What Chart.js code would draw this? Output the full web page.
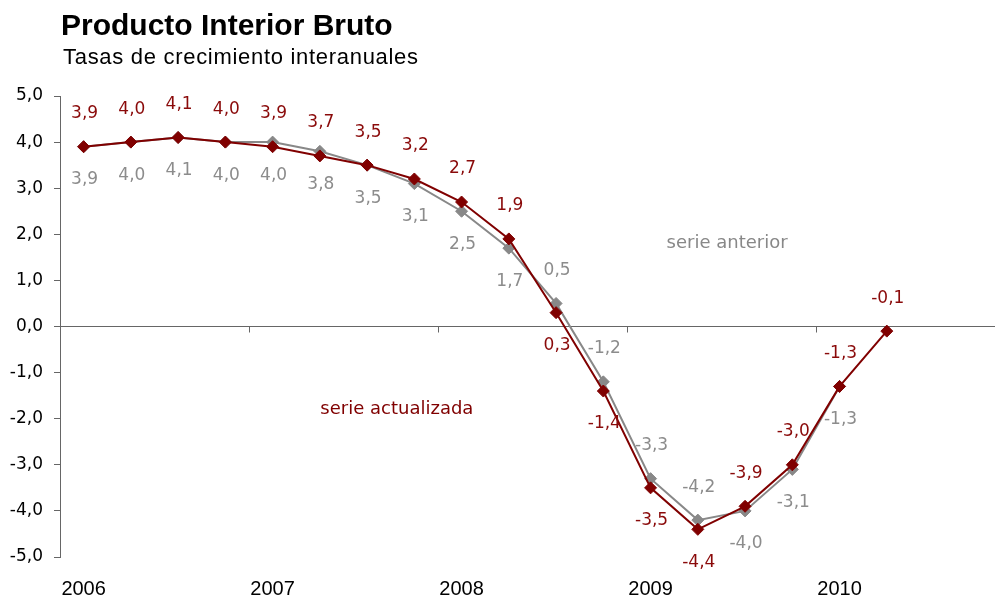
<!DOCTYPE html>
<html lang="es">
<head>
<meta charset="utf-8">
<title>Producto Interior Bruto</title>
<script src="https://cdn.jsdelivr.net/npm/chart.js@4.4.1/dist/chart.umd.min.js"></script>
<style>
  html, body { margin: 0; padding: 0; background: #fff; overflow: hidden; }
  #wrap { position: relative; width: 995px; height: 596px; }
  #chart { position: absolute; left: 0; top: 0; }
  .titulo { position: absolute; left: 61px; top: 10px; font: bold 30px 'Liberation Sans', Arial, sans-serif; line-height: 30px; color: #000; white-space: nowrap; }
  .subtitulo { position: absolute; left: 63px; top: 46px; font: 22px 'Liberation Sans', Arial, sans-serif; line-height: 22px; letter-spacing: 0.7px; color: #000; white-space: nowrap; }
</style>
</head>
<body>
<div id="wrap">
  <canvas id="chart" width="995" height="596"></canvas>
  <div class="titulo">Producto Interior Bruto</div>
  <div class="subtitulo">Tasas de crecimiento interanuales</div>
</div>
<script>
// Trimestres desde 1T 2006 (indice 0) hasta 2T 2010 (indice 17)
const anios = ['2006', '2007', '2008', '2009', '2010'];
const inicioAnio = [0, 4, 8, 12, 16];          // primer trimestre de cada año
const limitesAnio = [3.5, 7.5, 11.5, 15.5];    // marcas entre años sobre el eje

// Serie actualizada (granate)
const serieActualizada = [3.9, 4.0, 4.1, 4.0, 3.9, 3.7, 3.5, 3.2, 2.7, 1.9, 0.3, -1.4, -3.5, -4.4, -3.9, -3.0, -1.3, -0.1];
// Serie anterior (gris)
const serieAnterior = [3.9, 4.0, 4.1, 4.0, 4.0, 3.8, 3.5, 3.1, 2.5, 1.7, 0.5, -1.2, -3.3, -4.2, -4.0, -3.1, -1.3];

// Lado de cada etiqueta de dato: 1 = encima, -1 = debajo
const ladoActualizada = [1, 1, 1, 1, 1, 1, 1, 1, 1, 1, -1, -1, -1, -1, 1, 1, 1, 1];
const ladoAnterior = [-1, -1, -1, -1, -1, -1, -1, -1, -1, -1, 1, 1, 1, 1, -1, -1, -1];

const ROJO = '#800000';
const GRIS = '#888888';

// Formato con coma decimal
function fmt(v) {
    return v.toFixed(1).replace('.', ',');
}

// Etiquetas de valor junto a cada punto
const etiquetasDatos = {
    id: 'etiquetasDatos',
    afterDatasetsDraw(chart) {
        const ctx = chart.ctx;
        ctx.save();
        ctx.font = '17px "DejaVu Sans", sans-serif';
        ctx.textAlign = 'center';
        ctx.textBaseline = 'middle';
        chart.data.datasets.forEach((ds, di) => {
            const meta = chart.getDatasetMeta(di);
            ctx.fillStyle = ds.colorTexto;
            meta.data.forEach((pt, i) => {
                const v = ds.data[i].y;
                ctx.fillText(fmt(v), pt.x + 1, pt.y - ds.lados[i] * 33);
            });
        });
        ctx.restore();
    }
};

// Marcas de año sobre la linea de cero y notas de texto
const ejeCero = {
    id: 'ejeCero',
    beforeDatasetsDraw(chart) {
        const ctx = chart.ctx;
        const x = chart.scales.x;
        const y0 = chart.scales.y.getPixelForValue(0);
        ctx.save();
        ctx.strokeStyle = '#666';
        ctx.lineWidth = 1;
        limitesAnio.forEach(v => {
            const px = Math.round(x.getPixelForValue(v)) + 0.5;
            ctx.beginPath();
            ctx.moveTo(px, y0);
            ctx.lineTo(px, y0 + 6);
            ctx.stroke();
        });
        ctx.restore();
    },
    afterDraw(chart) {
        const ctx = chart.ctx;
        const x = chart.scales.x;
        const y = chart.scales.y;
        ctx.save();
        ctx.font = '18px "DejaVu Sans", sans-serif';
        ctx.textAlign = 'center';
        ctx.textBaseline = 'middle';
        ctx.fillStyle = GRIS;
        ctx.fillText('serie anterior', x.getPixelForValue(13.62), y.getPixelForValue(1.8));
        ctx.fillStyle = ROJO;
        ctx.fillText('serie actualizada', x.getPixelForValue(6.63), y.getPixelForValue(-1.8));
        ctx.restore();
    }
};

const chart = new Chart(document.getElementById('chart'), {
    type: 'line',
    data: {
        datasets: [{
            label: 'serie actualizada',
            data: serieActualizada.map((v, i) => ({ x: i, y: v })),
            borderColor: ROJO,
            backgroundColor: ROJO,
            borderWidth: 2,
            pointStyle: 'rectRot',
            pointRadius: 6,
            pointBorderWidth: 1,
            pointBackgroundColor: ROJO,
            pointBorderColor: ROJO,
            tension: 0,
            colorTexto: '#8a0a0a',
            lados: ladoActualizada
        }, {
            label: 'serie anterior',
            data: serieAnterior.map((v, i) => ({ x: i, y: v })),
            borderColor: GRIS,
            backgroundColor: GRIS,
            borderWidth: 2,
            pointStyle: 'rectRot',
            pointRadius: 6,
            pointBorderWidth: 1,
            pointBackgroundColor: GRIS,
            pointBorderColor: GRIS,
            tension: 0,
            colorTexto: '#8c8c8c',
            lados: ladoAnterior
        }]
    },
    options: {
        responsive: false,
        animation: false,
        devicePixelRatio: 1,
        layout: { autoPadding: false, padding: { top: 96, left: 0, right: 0, bottom: 0 } },
        plugins: {
            legend: { display: false },
            tooltip: { enabled: false }
        },
        scales: {
            x: {
                type: 'linear',
                min: -0.5,
                max: 19.29,
                grid: { display: false, drawTicks: false },
                border: { display: false },
                afterBuildTicks(scale) {
                    scale.ticks = inicioAnio.map(v => ({ value: v }));
                },
                afterFit(scale) {
                    scale.height = 39;
                    scale.paddingLeft = 0;
                    scale.paddingRight = 0;
                },
                ticks: {
                    autoSkip: false,
                    maxRotation: 0,
                    padding: 20,
                    color: '#000',
                    font: { family: "'Liberation Sans', Arial, sans-serif", size: 20 },
                    callback: (value, index) => anios[index]
                }
            },
            y: {
                min: -5,
                max: 5,
                afterFit(scale) { scale.width = 60; },
                grid: {
                    color: c => (c.tick && c.tick.value === 0 ? '#666' : 'rgba(0,0,0,0)'),
                    tickColor: '#666',
                    tickLength: 6,
                    lineWidth: 1
                },
                border: { display: true, color: '#666', width: 1 },
                ticks: {
                    stepSize: 1,
                    padding: 11,
                    color: '#000',
                    font: { family: "'DejaVu Sans', sans-serif", size: 17 },
                    callback: v => fmt(v)
                }
            }
        }
    },
    plugins: [ejeCero, etiquetasDatos]
});
</script>
</body>
</html>
